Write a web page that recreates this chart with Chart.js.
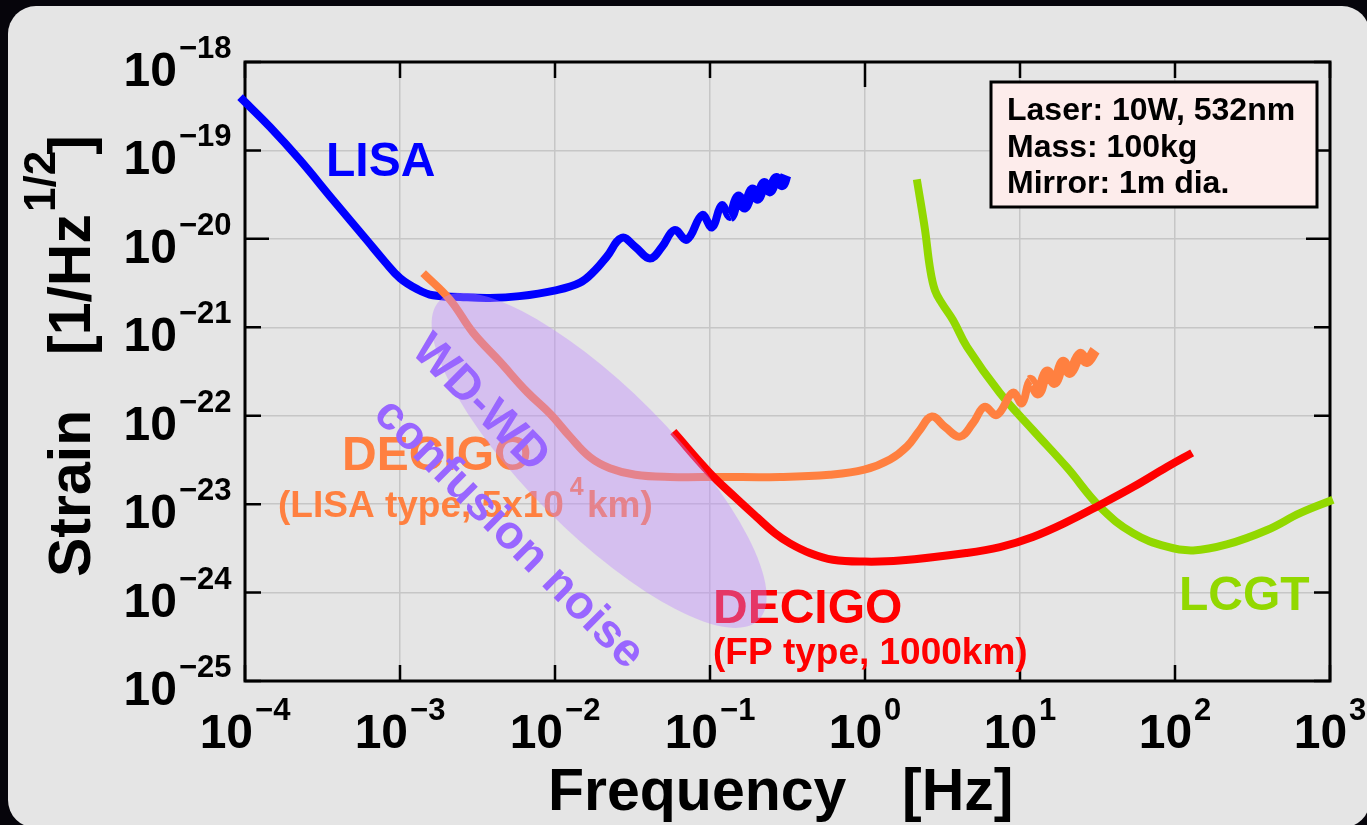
<!DOCTYPE html>
<html lang="en">
<head>
<meta charset="UTF-8" />
<title>Strain sensitivity: LISA, DECIGO, LCGT</title>
<script src="https://cdn.jsdelivr.net/npm/chart.js@4.4.1/dist/chart.umd.min.js"></script>
<style>
  html, body { margin: 0; padding: 0; background: #06050b; overflow: hidden; }
  #panel { position: absolute; left: 8px; top: 6px; width: 1362px; height: 822px; background: #e5e5e5; border-radius: 28px; }
  #wrap { position: absolute; left: 0; top: 0; width: 1367px; height: 825px; }
</style>
</head>
<body>
<div id="panel"></div>
<div id="wrap"><canvas id="chart" width="1367" height="825"></canvas></div>
<script>
// axis decades
const xExponents = [-4, -3, -2, -1, 0, 1, 2, 3];
const yExponents = [-18, -19, -20, -21, -22, -23, -24, -25];
const xTickExp = ["\u22124", "\u22123", "\u22122", "\u22121", "0", "1", "2", "3"];
const yTickExp = ["\u221218", "\u221219", "\u221220", "\u221221", "\u221222", "\u221223", "\u221224", "\u221225"];

// LISA
const lisaFreq = [9.3e-5, 1.45e-4, 2.26e-4, 3.7e-4, 6.1e-4, 8.0e-4, 1.0e-3, 1.29e-3, 1.63e-3,
  2.44e-3, 3.8e-3, 5.9e-3, 9.9e-3, 1.45e-2, 1.81e-2, 2.16e-2, 2.7e-2, 3.3e-2, 4.1e-2,
  4.9e-2, 5.9e-2, 7.1e-2, 8.9e-2, 0.103, 0.119, 0.135, 0.152, 0.168, 0.187,
  0.204, 0.223, 0.244, 0.267, 0.292, 0.309];
const lisaStrain = [4.0e-19, 1.84e-19, 7.8e-20, 2.75e-20, 9.7e-21, 5.5e-21, 3.6e-21, 2.7e-21, 2.3e-21,
  2.2e-21, 2.15e-21, 2.25e-21, 2.6e-21, 3.2e-21, 4.4e-21, 6.3e-21, 1.03e-20, 8.1e-21, 6.0e-21,
  8.1e-21, 1.26e-20, 9.8e-21, 1.86e-20, 1.35e-20, 2.4e-20, 1.78e-20, 2.95e-20, 2.3e-20, 3.55e-20,
  2.9e-20, 4.2e-20, 3.5e-20, 4.8e-20, 4.1e-20, 5.25e-20];

// DECIGO (LISA type, 5x10^4 km)
const decigoLFreq = [1.41e-3, 2.1e-3, 2.96e-3, 4.4e-3, 6.6e-3, 9.3e-3, 1.25e-2, 1.68e-2, 2.26e-2, 3.3e-2,
  5.5e-2, 0.116, 0.283, 0.59, 0.99, 1.45, 1.87, 2.26, 2.7, 3.3,
  4.1, 4.98, 5.9, 7.1, 9.0, 10.3, 11.6, 13.1, 14.9, 16.8,
  18.9, 21.0, 24.4, 27.0, 30.5];
const decigoLStrain = [4.1e-21, 2.05e-21, 8.7e-22, 4.1e-22, 1.86e-22, 1.05e-22, 5.8e-23, 3.4e-23, 2.55e-23, 2.15e-23,
  2.03e-23, 2.03e-23, 2.03e-23, 2.15e-23, 2.45e-23, 3.2e-23, 4.5e-23, 6.9e-23, 9.8e-23, 7.4e-23,
  5.8e-23, 8.3e-23, 1.26e-22, 1.02e-22, 1.82e-22, 1.38e-22, 2.5e-22, 1.82e-22, 3.1e-22, 2.4e-22,
  4.0e-22, 3.1e-22, 4.9e-22, 4.1e-22, 5.5e-22];

// DECIGO (FP type, 1000 km)
const decigoFFreq = [5.8e-2, 0.1, 0.145, 0.201, 0.262, 0.328, 0.44, 0.62, 1.0, 1.68, 4.5, 7.43, 12.1, 20.1, 32.8, 53.6, 88.7, 129];
const decigoFStrain = [6.6e-23, 2.24e-23, 1.2e-23, 7.1e-24, 4.7e-24, 3.6e-24, 2.8e-24, 2.35e-24, 2.24e-24, 2.3e-24,
  2.8e-24, 3.27e-24, 4.26e-24, 6.3e-24, 9.8e-24, 1.56e-23, 2.63e-23, 3.8e-23];

// LCGT
const lcgtFreq = [2.16, 2.44, 2.62, 2.83, 3.14, 3.7, 4.55, 7.4, 12.1, 20.1, 32.8, 53.6, 88.7, 131, 216, 393, 640, 1045];
const lcgtStrain = [4.7e-20, 1.26e-20, 4.8e-21, 2.6e-21, 1.86e-21, 1.2e-21, 6.0e-22, 1.82e-22, 6.9e-23, 2.6e-23,
  9.3e-24, 4.7e-24, 3.3e-24, 3.0e-24, 3.5e-24, 5.1e-24, 7.9e-24, 1.12e-23];

// WD-WD confusion noise band: ends of the long axis (freq, strain)
const wdBandFreq = [1.8e-3, 0.206];
const wdBandStrain = [2.0e-21, 4.9e-25];

const infoLines = ["Laser: 10W, 532nm", "Mass: 100kg", "Mirror: 1m dia."];

const FONT = '"Liberation Sans", Arial, Helvetica, sans-serif';
const f = (size) => "bold " + size + "px " + FONT;

function pts(xs, ys) {
  return xs.map((x, i) => ({ x: x, y: ys[i] }));
}

// noisyFrom: above this frequency the trace is drawn as a thick noisy band
function curve(label, xs, ys, color, noisyFrom) {
  return {
    label: label,
    data: pts(xs, ys),
    borderColor: color,
    borderWidth: 8,
    pointRadius: 0,
    fill: false,
    tension: 0.4,
    clip: 12,
    segment: {
      borderWidth: (c) => (noisyFrom && c.p0.parsed.x >= noisyFrom ? 11 : undefined),
    },
  };
}

const decorPlugin = {
  id: "decor",
  beforeDatasetsDraw(chart) {
    const { ctx, chartArea: a, scales } = chart;
    ctx.save();
    ctx.strokeStyle = "#000";
    ctx.lineWidth = 3;
    ctx.strokeRect(a.left, a.top, a.right - a.left, a.bottom - a.top);
    // inward ticks
    ctx.lineWidth = 2.5;
    ctx.beginPath();
    xExponents.forEach((k) => {
      const x = scales.x.getPixelForValue(Math.pow(10, k));
      const lenTop = k === 0 ? 25 : 16;
      ctx.moveTo(x, a.top); ctx.lineTo(x, a.top + lenTop);
      ctx.moveTo(x, a.bottom); ctx.lineTo(x, a.bottom - 16);
    });
    yExponents.forEach((k) => {
      const y = scales.y.getPixelForValue(Math.pow(10, k));
      const len = k === -20 ? 24 : 16;
      ctx.moveTo(a.left, y); ctx.lineTo(a.left + len, y);
      ctx.moveTo(a.right, y); ctx.lineTo(a.right - len, y);
    });
    ctx.stroke();
    ctx.restore();
  },
  afterDatasetsDraw(chart) {
    const { ctx, scales } = chart;
    const xs = scales.x, ys = scales.y;
    ctx.save();
    ctx.textBaseline = "alphabetic";

    // curve labels
    ctx.textAlign = "left";
    ctx.fillStyle = "#0000ff";
    ctx.font = f(48);
    ctx.fillText("LISA", 326, 176);

    ctx.fillStyle = "#ff8040";
    ctx.fillText("DECIGO", 342, 470);
    ctx.font = f(37);
    let t = "(LISA type, 5x10";
    ctx.fillText(t, 278, 517);
    let w = ctx.measureText(t).width;
    ctx.font = f(25);
    ctx.fillText("4", 278 + w + 6, 495);
    ctx.font = f(37);
    ctx.fillText("km)", 587, 517);

    ctx.fillStyle = "#ff0000";
    ctx.font = f(48);
    ctx.fillText("DECIGO", 713, 623);
    ctx.font = f(37);
    ctx.fillText("(FP type, 1000km)", 713, 664);

    ctx.fillStyle = "#92d800";
    ctx.font = f(48);
    ctx.fillText("LCGT", 1179, 610);

    // WD-WD confusion band
    const p1 = { x: xs.getPixelForValue(wdBandFreq[0]), y: ys.getPixelForValue(wdBandStrain[0]) };
    const p2 = { x: xs.getPixelForValue(wdBandFreq[1]), y: ys.getPixelForValue(wdBandStrain[1]) };
    const cx = (p1.x + p2.x) / 2, cy = (p1.y + p2.y) / 2;
    const semiA = Math.hypot(p2.x - p1.x, p2.y - p1.y) / 2;
    const ang = Math.atan2(p2.y - p1.y, p2.x - p1.x);
    ctx.fillStyle = "rgba(190, 135, 255, 0.4)";
    ctx.beginPath();
    ctx.ellipse(cx, cy, semiA, semiA * 0.32, ang, 0, Math.PI * 2);
    ctx.fill();

    ctx.fillStyle = "#9966ff";
    ctx.font = f(47);
    ctx.save();
    ctx.translate(410, 352);
    ctx.rotate(Math.PI / 4);
    ctx.fillText("WD-WD", 0, 0);
    ctx.restore();
    ctx.save();
    ctx.translate(372, 416);
    ctx.rotate(Math.PI / 4);
    ctx.fillText("confusion noise", 0, 0);
    ctx.restore();

    // info box
    ctx.fillStyle = "#fdeceb";
    ctx.fillRect(991, 82, 326, 125);
    ctx.strokeStyle = "#000";
    ctx.lineWidth = 3;
    ctx.strokeRect(991, 82, 326, 125);
    ctx.fillStyle = "#000";
    ctx.font = f(32);
    infoLines.forEach((line, i) => ctx.fillText(line, 1007, 120 + i * 36.5));

    // tick labels
    ctx.fillStyle = "#000";
    yExponents.forEach((k, i) => {
      const y = ys.getPixelForValue(Math.pow(10, k));
      ctx.font = f(48);
      ctx.textAlign = "right";
      ctx.fillText("10", 177, y + 24);
      ctx.font = f(31);
      ctx.textAlign = "left";
      ctx.fillText(yTickExp[i], 179, y - 4);
    });
    ctx.textAlign = "left";
    xExponents.forEach((k, i) => {
      const x = xs.getPixelForValue(Math.pow(10, k));
      ctx.font = f(48);
      const wb = ctx.measureText("10").width;
      ctx.font = f(31);
      const we = ctx.measureText(xTickExp[i]).width;
      const x0 = x - (wb + 2 + we) / 2;
      ctx.font = f(48);
      ctx.fillText("10", x0, 748);
      ctx.font = f(31);
      ctx.fillText(xTickExp[i], x0 + wb + 2, 720);
    });

    // axis titles
    ctx.font = f(59);
    ctx.fillText("Frequency", 548, 810);
    ctx.fillText("[Hz]", 902, 810);

    ctx.save();
    ctx.translate(90, 577);
    ctx.rotate(-Math.PI / 2);
    ctx.font = f(59);
    ctx.fillText("Strain", 0, 0);
    t = "[1/Hz";
    ctx.fillText(t, 222, 0);
    w = ctx.measureText(t).width;
    ctx.font = f(44);
    ctx.fillText("1/2", 222 + w + 2, -35);
    const w2 = ctx.measureText("1/2").width;
    ctx.font = f(59);
    ctx.fillText("]", 222 + w + w2 - 2, 0);
    ctx.restore();

    ctx.restore();
  },
};

const ctx = document.getElementById("chart").getContext("2d");
new Chart(ctx, {
  type: "line",
  data: {
    datasets: [
      curve("DECIGO (FP type, 1000km)", decigoFFreq, decigoFStrain, "#ff0000"),
      curve("DECIGO (LISA type, 5x10^4km)", decigoLFreq, decigoLStrain, "#ff8040", 11),
      curve("LISA", lisaFreq, lisaStrain, "#0000ff", 0.13),
      curve("LCGT", lcgtFreq, lcgtStrain, "#92d800"),
    ],
  },
  options: {
    responsive: false,
    devicePixelRatio: 1,
    animation: false,
    layout: { padding: { left: 245, right: 37, top: 62, bottom: 144 } },
    plugins: { legend: { display: false }, tooltip: { enabled: false } },
    scales: {
      x: {
        type: "logarithmic",
        min: 1e-4,
        max: 1e3,
        ticks: { display: false },
        grid: { color: "#c6c6c6", lineWidth: 1.5, drawTicks: false },
        border: { display: false },
        afterBuildTicks: (s) => { s.ticks = xExponents.map((k) => ({ value: Math.pow(10, k) })); },
        afterFit: (s) => { s.height = 0; },
      },
      y: {
        type: "logarithmic",
        min: 1e-25,
        max: 1e-18,
        ticks: { display: false },
        grid: { color: "#c6c6c6", lineWidth: 1.5, drawTicks: false },
        border: { display: false },
        afterBuildTicks: (s) => { s.ticks = yExponents.map((k) => ({ value: Math.pow(10, k) })); },
        afterFit: (s) => { s.width = 0; },
      },
    },
  },
  plugins: [decorPlugin],
});
</script>
</body>
</html>
